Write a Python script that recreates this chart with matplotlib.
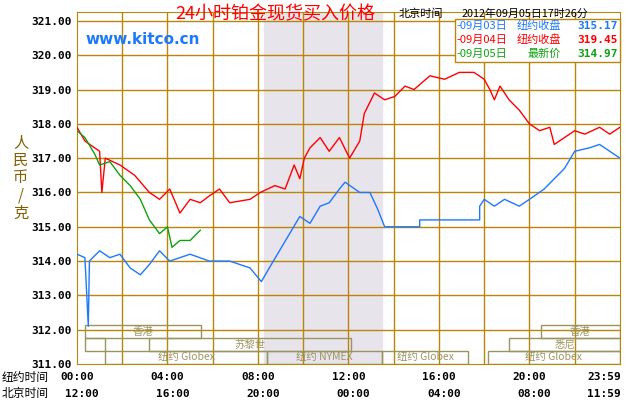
import matplotlib
matplotlib.use('Agg')
from matplotlib import pyplot as plt
from matplotlib.patches import Rectangle

plt.rcParams['font.family'] = ['Noto Sans CJK SC', 'DejaVu Sans']

# 时间(小时, 纽约时间) / 价格
red_t = [0, .35, 1.0, 1.1, 1.25, 1.9, 2.55, 3.2, 3.65, 4.1, 4.55, 5.0, 5.45, 5.85, 6.3, 6.75, 7.65, 8.1,
         8.75, 9.2, 9.6, 9.85, 10.05, 10.3, 10.75, 11.15, 11.6, 12.05, 12.5, 12.7, 13.15, 13.6, 14.05, 14.5,
         14.9, 15.6, 16.25, 16.9, 17.55, 18.0, 18.25, 18.45, 18.7, 19.1, 19.55, 20.0, 20.45, 20.9, 21.1,
         21.55, 22.0, 22.45, 23.1, 23.55, 24]
red_v = [317.9, 317.5, 317.2, 316.0, 317.0, 316.8, 316.5, 316.0, 315.8, 316.1, 315.4, 315.8, 315.7, 315.9,
         316.1, 315.7, 315.8, 316.0, 316.2, 316.1, 316.8, 316.4, 317.0, 317.3, 317.6, 317.2, 317.6, 317.0,
         317.5, 318.3, 318.9, 318.7, 318.8, 319.1, 319.0, 319.4, 319.3, 319.5, 319.5, 319.3, 319.0, 318.7,
         319.1, 318.7, 318.4, 318.0, 317.8, 317.9, 317.4, 317.6, 317.8, 317.7, 317.9, 317.7, 317.9]

blue_t = [0, .35, .5, .55, 1.0, 1.45, 1.9, 2.35, 2.8, 3.2, 3.65, 4.1, 5.0, 5.85, 6.75, 7.65, 8.15, 8.5, 8.95,
          9.4, 9.85, 10.3, 10.75, 11.15, 11.6, 11.85, 12.5, 12.95, 13.3, 13.6, 15.15, 15.15, 17.8, 17.8,
          18.0, 18.45, 18.9, 19.55, 20.0, 20.65, 21.1, 21.55, 22.0, 22.65, 23.1, 23.55, 24]
blue_v = [314.2, 314.1, 312.1, 314.0, 314.3, 314.1, 314.2, 313.8, 313.6, 313.9, 314.3, 314.0, 314.2, 314.0,
          314.0, 313.8, 313.4, 313.8, 314.3, 314.8, 315.3, 315.1, 315.6, 315.7, 316.1, 316.3, 316.0, 316.0,
          315.5, 315.0, 315.0, 315.2, 315.2, 315.6, 315.8, 315.6, 315.8, 315.6, 315.8, 316.1, 316.4, 316.7,
          317.2, 317.3, 317.4, 317.2, 317.0]

green_t = [0, .35, .8, 1.0, 1.45, 1.9, 2.35, 2.8, 3.2, 3.65, 4.0, 4.2, 4.55, 5.0, 5.45]
green_v = [317.8, 317.6, 317.1, 316.8, 316.9, 316.5, 316.2, 315.8, 315.2, 314.8, 315.0, 314.4, 314.6, 314.6, 314.9]

ny_labels = ['00:00', '04:00', '08:00', '12:00', '16:00', '20:00', '23:59']
bj_labels = ['12:00', '16:00', '20:00', '00:00', '04:00', '08:00', '11:59']
yticks = [311, 312, 313, 314, 315, 316, 317, 318, 319, 320, 321]

# 交易时段: (名称, 起, 止, 行)
sessions = [('香港', 0.35, 5.5, 0), ('香港', 20.5, 24, 0),
            ('', 0.35, 1.25, 1), ('苏黎世', 3.2, 12.1, 1), ('悉尼', 19.1, 24, 1),
            ('纽约 Globex', 1.25, 8.4, 2), ('纽约 NYMEX', 8.4, 13.5, 2),
            ('纽约 Globex', 13.5, 17.3, 2), ('纽约 Globex', 18.15, 24, 2)]

gold = '#b8860b'
fig = plt.figure(figsize=(6.3, 4.0), dpi=100)
ax = fig.add_axes([0.1222, 0.09, 0.8618, 0.88])
ax.set_xlim(0, 24)
ax.set_ylim(311, 321.26)
ax.axvspan(8.26, 13.5, color='#e8e4ec', zorder=0)
for i in range(1, 12):
    ax.axvline(i * 2, color=gold, lw=1, zorder=1)
for y in yticks[1:]:
    ax.axhline(y, color=gold, lw=1, zorder=1)
for s in ax.spines.values():
    s.set_color(gold)

row_h = 13 / 34.3
for name, a, b, r in sessions:
    y0 = 311 + (2 - r) * row_h
    ax.add_patch(Rectangle((a, y0), b - a, row_h, fill=False, ec='#9a9560', lw=1, zorder=2))
    if name:
        ax.text((a + b) / 2, y0 + row_h / 2, name, ha='center', va='center', fontsize=7.5,
                color='#9a9560', zorder=3)

ax.plot(blue_t, blue_v, color='#1e78ff', lw=1, zorder=4)
ax.plot(red_t, red_v, color='#ff0000', lw=1, zorder=4)
ax.plot(green_t, green_v, color='#10a010', lw=1, zorder=5)

ax.set_xticks([])
ax.set_yticks(yticks)
ax.set_yticklabels(['%.2f' % v for v in yticks], family='DejaVu Sans Mono', fontweight='bold', fontsize=8)
ax.tick_params(axis='y', length=0, pad=4)

xs = [0, 4, 8, 12, 16, 20, 23.3]
for x, a, b in zip(xs, ny_labels, bj_labels):
    xf = 0.1222 + 0.8618 * x / 24
    fig.text(xf, 0.057, a, ha='center', va='center', family='DejaVu Sans Mono', fontweight='bold', fontsize=8)
    fig.text(xf + (0.008 if x < 23 else 0), 0.015, b, ha='center', va='center', family='DejaVu Sans Mono',
             fontweight='bold', fontsize=8)
fig.text(0.003, 0.057, '纽约时间', va='center', fontsize=8.5)
fig.text(0.003, 0.015, '北京时间', va='center', fontsize=8.5)

fig.text(0.033, 0.555, '人\n民\n币\n/\n克', ha='center', va='center', fontsize=11, color='#806000',
         linespacing=1.05)
fig.text(0.437, 0.965, '24小时铂金现货买入价格', ha='center', va='center', fontsize=13, color='#ff0000')
fig.text(0.632, 0.965, '北京时间', ha='left', va='center', fontsize=8)
fig.text(0.733, 0.965, '2012年09月05日17时26分', ha='left', va='center', fontsize=7.8)
fig.text(0.135, 0.9, 'www.kitco.cn', ha='left', va='center', fontsize=11, fontweight='bold',
         color='#1e78ff', family='DejaVu Sans')

fig.patches.append(Rectangle((0.722, 0.845), 0.262, 0.107, transform=fig.transFigure,
                             fill=True, fc='white', ec=gold, lw=1, zorder=6))
leg = [('-09月03日', '纽约收盘', '315.17', '#1e78ff'),
       ('-09月04日', '纽约收盘', '319.45', '#ff0000'),
       ('-09月05日', '最新价', '314.97', '#10a010')]
for i, (d, n, v, c) in enumerate(leg):
    y = 0.935 - i * 0.035
    fig.text(0.724, y, d, color=c, fontsize=8, va='center', zorder=7)
    fig.text(0.89, y, n, color=c, fontsize=8, va='center', ha='right', zorder=7)
    fig.text(0.98, y, v, color=c, fontsize=8, va='center', ha='right', fontweight='bold',
             family='DejaVu Sans Mono', zorder=7)

fig.savefig('out.png', dpi=100)
